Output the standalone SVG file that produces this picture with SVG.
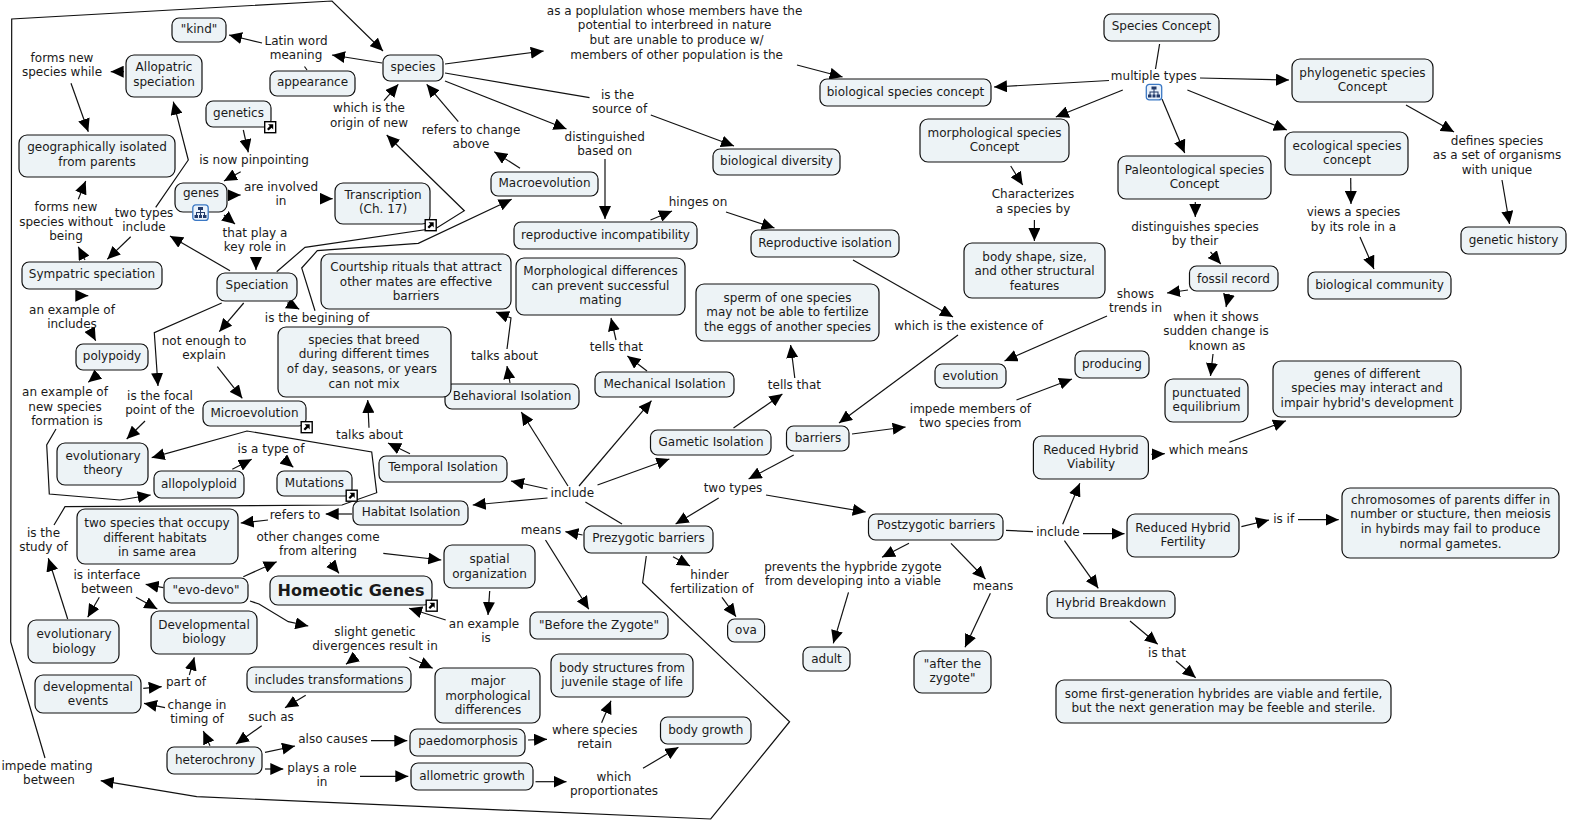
<svg xmlns="http://www.w3.org/2000/svg" width="1569" height="822" viewBox="0 0 1569 822">
<style>
text{font-family:"DejaVu Sans","Verdana",sans-serif;font-size:12px;fill:#1a1a1a;text-anchor:middle;transform:translateY(-0.7px)}
rect.n{fill:#edf3f6;stroke:#111;stroke-width:1.2}
#c polyline{fill:none;stroke:#111;stroke-width:1.2;marker-end:url(#a)}
#c polyline.p{marker-end:none}
</style>
<defs>
<marker id="a" markerUnits="userSpaceOnUse" markerWidth="13" markerHeight="12" refX="13" refY="6" orient="auto" viewBox="0 0 13 12"><path d="M0,0L13,6L0,12Z" fill="#000"/></marker>
<g id="lk"><rect x="0.7" y="0.7" width="11" height="11" fill="#fff" stroke="#000" stroke-width="1.4"/><path d="M4,3.2H9.2V8.4L7.6,6.8L4.6,9.6L3,8L5.8,5L4,3.2Z" fill="#000"/></g>
<g id="tr"><rect x="0.8" y="0.8" width="15.4" height="15.6" rx="3" fill="#eaf2fb" stroke="#3b78c4" stroke-width="1.3"/><path d="M6,3H11V6H9V8H13V11H14.5V14H11V11H12V9H9V11H10V14H7V11H8V9H5V11H6V14H2.5V11H4V8H8V6H6Z" fill="#223a6a"/></g>
</defs>
<g id="c">
<polyline points="45,758 10.7,642 11.7,19 332,1 383,51"/>
<polyline points="262,43 229,35"/>
<polyline points="382,63 332,55"/>
<polyline class="p" points="304.5,66.5 307,70"/>
<polyline points="445,64 543.7,51"/>
<polyline class="p" points="445,73 589.5,97.7"/>
<polyline points="650.8,115 734,146"/>
<polyline points="445,81 566.5,129"/>
<polyline points="605,159 605,219"/>
<polyline points="650.5,220 672,211"/>
<polyline points="726,212 774.5,228"/>
<polyline points="797,65 842.6,77"/>
<polyline points="1109,80.5 994,87"/>
<polyline class="p" points="1159.6,44 1155.5,69"/>
<polyline points="1200,78 1289,80"/>
<polyline points="1122.8,90 1055.8,117"/>
<polyline points="1162,99 1184.7,153"/>
<polyline points="1187.4,90 1286.8,130"/>
<polyline points="1406,105 1454,132"/>
<polyline points="1502,180 1509.5,224"/>
<polyline points="1350.7,178 1351,204"/>
<polyline points="1360,237 1374,269"/>
<polyline points="1195.3,202 1195.3,217"/>
<polyline points="1210.5,252 1220.8,264"/>
<polyline points="1188,290 1167,293"/>
<polyline points="1229,294 1226,307"/>
<polyline points="1213,354 1210.5,376"/>
<polyline points="1107,316 1004.5,361"/>
<polyline points="1010.7,166 1022.7,185"/>
<polyline points="1034.4,220 1034.4,241"/>
<polyline points="853,260 953,317"/>
<polyline points="958,335 839,423"/>
<polyline points="852,434 905.6,427"/>
<polyline points="1016.5,400 1072,379"/>
<polyline points="793.7,455 748.6,479"/>
<polyline points="766,495 865.7,512"/>
<polyline points="718.7,498 675.6,524"/>
<polyline class="p" points="622,524 585.4,502"/>
<polyline points="597.5,485 669.4,459"/>
<polyline points="579,486 651.5,400.7"/>
<polyline points="568,486 521.3,412"/>
<polyline points="547.5,489 511,481"/>
<polyline points="547.5,498 472.7,505"/>
<polyline points="733.5,428 782.4,394"/>
<polyline points="794.8,378 790.6,345"/>
<polyline points="647,371 627.4,356"/>
<polyline points="616,340 611,318"/>
<polyline points="510,383 507,366"/>
<polyline points="507,349 511,318 496,312"/>
<polyline points="410,453.7 388,443"/>
<polyline points="369,427.7 367.7,400"/>
<polyline points="352,514 325.7,514"/>
<polyline points="268,520 240.7,523"/>
<polyline points="54,525 65,506.7 342,505 376.7,492.7 371.7,452 247,431 151.7,457.7"/>
<polyline points="56,429 46.7,445 49.3,494 120,500 150.7,495"/>
<polyline points="145,421 126.7,439"/>
<polyline points="221.7,303 154.3,332.7 158,386"/>
<polyline points="243.7,303 219.3,331.7"/>
<polyline points="217.3,366.7 242.3,398.3"/>
<polyline points="287.3,302.7 299.3,309.3"/>
<polyline points="315,310.7 301.7,268 317.3,250.7 418.3,243.3 511.7,199.3"/>
<polyline points="276.7,271.7 305,247.3 436.7,228 464.3,210.7 386.7,135"/>
<polyline points="384,100.7 398.3,84.3"/>
<polyline points="458.3,121.7 426.7,84.3"/>
<polyline points="520,168.3 494.3,151.7"/>
<polyline points="243.3,130 248.3,152.3"/>
<polyline points="240.7,171.7 224,181"/>
<polyline points="230,195.3 240.7,195"/>
<polyline points="321.7,198.7 332.7,198.7"/>
<polyline points="224,215 235,224"/>
<polyline points="256,258.3 256,270"/>
<polyline points="230,270.7 170,236"/>
<polyline points="130.7,236.7 107.3,259.3"/>
<polyline points="155.7,207.3 188.3,160 173.3,101.7"/>
<polyline points="124,71.7 110.7,71.7"/>
<polyline points="71,83.3 88.3,131.7"/>
<polyline points="85,260 78.3,246.7"/>
<polyline points="78.3,199.3 85.7,181"/>
<polyline points="79,295.7 88.3,295.7"/>
<polyline points="90,330 95.7,340.7"/>
<polyline points="98.3,374 88.3,382.3"/>
<polyline points="232.3,469.3 251.7,459.3"/>
<polyline points="283.3,459 293.3,467.3"/>
<polyline points="67.7,619 48.3,558.3"/>
<polyline points="99.3,597.3 87.7,617.3"/>
<polyline points="136,597.3 157.3,609"/>
<polyline points="163.3,587.7 145.7,584.3"/>
<polyline points="243.3,576.7 276.7,561.7"/>
<polyline points="383.3,553.3 441.3,560"/>
<polyline points="330,562.3 339,573.3"/>
<polyline points="250,601 259,604 288.3,621.7 308.3,626"/>
<polyline points="489.7,591 488,615"/>
<polyline points="445.7,620 409,608.3"/>
<polyline points="356,656.7 346,664.3"/>
<polyline points="409.3,657.3 432.7,668.3"/>
<polyline points="305.7,695.3 285,707.7"/>
<polyline points="261.7,725.7 236,744"/>
<polyline points="210,745.7 203.3,731"/>
<polyline points="165,707.7 144,703.3"/>
<polyline points="143.3,688.3 161.7,686.7"/>
<polyline points="189.3,675 194.3,657.3"/>
<polyline points="265,752.3 295,746"/>
<polyline points="371,740.7 407.3,740.7"/>
<polyline points="265,769 283.3,769"/>
<polyline points="360,776.3 408.3,776.3"/>
<polyline points="528,740 547,739.3"/>
<polyline points="601.6,722.7 611,700.7"/>
<polyline points="535.5,781.7 566.5,781.7"/>
<polyline points="643,768.3 678.4,747.3"/>
<polyline points="646.3,556 642.6,582.7 789.6,721.7 710.7,819 196.7,796.7 100.7,780.7"/>
<polyline points="582.6,535 565.4,531.7"/>
<polyline points="545.5,540 588.8,609.3"/>
<polyline points="673,556.7 690,566"/>
<polyline points="722,597.3 736,616.7"/>
<polyline points="909,543.3 882,557.3"/>
<polyline points="848.5,592.3 833.3,643.3"/>
<polyline points="951,543.3 985.5,579"/>
<polyline points="990.4,593.3 965,647.3"/>
<polyline class="p" points="1006,530.3 1033,531.7"/>
<polyline points="1062.7,524.3 1079.8,483.3"/>
<polyline points="1083,533.7 1124.5,533.7"/>
<polyline points="1064.4,540.7 1098.3,588.3"/>
<polyline points="1151.4,454.3 1164.8,453.7"/>
<polyline points="1229.4,442.3 1286,420.7"/>
<polyline points="1241.4,526.7 1269,520"/>
<polyline points="1298,519.7 1338.7,519.7"/>
<polyline points="1130,621 1157.7,644.3"/>
<polyline points="1176,661 1195.7,677.7"/>
</g>
<g id="n-kind"><rect class="n" x="172" y="18" width="54" height="24" rx="7"/><text x="199" y="33.5">"kind"</text></g>
<g id="n-allopatric"><rect class="n" x="126" y="55" width="76" height="42" rx="8"/><text x="164" y="72.2">Allopatric<tspan x="164" dy="14.6">speciation</tspan></text></g>
<g id="n-appearance"><rect class="n" x="270" y="71" width="85" height="25" rx="7"/><text x="312.5" y="87">appearance</text></g>
<g id="n-species"><rect class="n" x="383" y="55" width="60" height="26" rx="7"/><text x="413" y="71.5">species</text></g>
<g id="n-genetics"><rect class="n" x="206" y="101" width="65" height="26" rx="7"/><text x="238.5" y="117.5">genetics</text><use href="#lk" x="264" y="121"/></g>
<g id="n-geo"><rect class="n" x="19" y="135" width="156" height="42" rx="8"/><text x="97" y="152.2">geographically isolated<tspan x="97" dy="14.6">from parents</tspan></text></g>
<g id="n-genes"><rect class="n" x="175" y="183" width="52" height="29" rx="8"/><text x="201" y="198">genes</text><use href="#tr" x="192" y="204"/></g>
<g id="n-transcription"><rect class="n" x="335" y="183" width="95" height="41" rx="8"/><text x="383" y="199.5">Transcription<tspan x="383" dy="14.6">(Ch. 17)</tspan></text><use href="#lk" x="424.5" y="219"/></g>
<g id="n-macro"><rect class="n" x="491" y="172" width="107" height="24" rx="7"/><text x="544.5" y="187.5">Macroevolution</text></g>
<g id="n-sympatric"><rect class="n" x="22" y="262" width="140" height="27" rx="7"/><text x="92" y="279">Sympatric speciation</text></g>
<g id="n-speciation"><rect class="n" x="217" y="273" width="80" height="28" rx="8"/><text x="257" y="290">Speciation</text></g>
<g id="n-behavioral"><rect class="n" x="445" y="384" width="134" height="25" rx="7"/><text x="512" y="401">Behavioral Isolation</text></g>
<g id="n-courtship"><rect class="n" x="321" y="254" width="190" height="55" rx="8"/><text x="416" y="272">Courtship rituals that attract<tspan x="416" dy="14.6">other mates are effective</tspan><tspan x="416" dy="14.6">barriers</tspan></text></g>
<g id="n-morphdiff"><rect class="n" x="516" y="258" width="169" height="57" rx="8"/><text x="600.5" y="276">Morphological differences<tspan x="600.5" dy="14.6">can prevent successful</tspan><tspan x="600.5" dy="14.6">mating</tspan></text></g>
<g id="n-polypoidy"><rect class="n" x="76" y="344" width="72" height="26" rx="7"/><text x="112" y="360.5">polypoidy</text></g>
<g id="n-breed"><rect class="n" x="278" y="327" width="173" height="70" rx="8"/><text x="364" y="344.5">species that breed<tspan x="364" dy="14.6">during different times</tspan><tspan x="362" dy="14.6">of day, seasons, or years</tspan><tspan x="364" dy="14.6">can not mix</tspan></text></g>
<g id="n-micro"><rect class="n" x="203" y="401" width="103" height="25" rx="7"/><text x="254.5" y="418">Microevolution</text><use href="#lk" x="300.5" y="421"/></g>
<g id="n-evotheory"><rect class="n" x="57" y="443" width="91" height="42" rx="8"/><text x="103" y="460.5">evolutionary<tspan x="103" dy="14.6">theory</tspan></text></g>
<g id="n-allopolyploid"><rect class="n" x="154" y="471" width="90" height="27" rx="7"/><text x="199" y="488.5">allopolyploid</text></g>
<g id="n-mutations"><rect class="n" x="277" y="471" width="75" height="25" rx="7"/><text x="314.5" y="488">Mutations</text><use href="#lk" x="345.5" y="489.5"/></g>
<g id="n-temporal"><rect class="n" x="379" y="456" width="128" height="26" rx="7"/><text x="443" y="472">Temporal Isolation</text></g>
<g id="n-habitat"><rect class="n" x="353" y="501" width="115" height="24" rx="7"/><text x="411" y="517">Habitat Isolation</text></g>
<g id="n-twospecies"><rect class="n" x="77" y="509" width="161" height="55" rx="8"/><text x="157" y="528">two species that occupy<tspan x="155" dy="14.6">different habitats</tspan><tspan x="157" dy="14.6">in same area</tspan></text></g>
<g id="n-spatial"><rect class="n" x="444" y="545" width="91" height="43" rx="8"/><text x="489.5" y="564">spatial<tspan x="489.5" dy="14.6">organization</tspan></text></g>
<g id="n-homeotic"><rect class="n" x="270" y="576" width="162" height="29" rx="8"/><text x="351" y="597" style="font-size:16px;font-weight:bold">Homeotic Genes</text><use href="#lk" x="425.5" y="599.5"/></g>
<g id="n-evodevo"><rect class="n" x="164" y="578" width="84" height="25" rx="7"/><text x="206" y="595">"evo-devo"</text></g>
<g id="n-evobio"><rect class="n" x="28" y="620" width="91" height="43" rx="8"/><text x="74" y="639">evolutionary<tspan x="74" dy="14.6">biology</tspan></text></g>
<g id="n-devbio"><rect class="n" x="151" y="611" width="106" height="43" rx="8"/><text x="204" y="629.5">Developmental<tspan x="204" dy="14.6">biology</tspan></text></g>
<g id="n-devevents"><rect class="n" x="35" y="675" width="106" height="38" rx="8"/><text x="88" y="691.5">developmental<tspan x="88" dy="14.6">events</tspan></text></g>
<g id="n-includes"><rect class="n" x="247" y="667" width="164" height="25" rx="7"/><text x="329" y="684.5">includes transformations</text></g>
<g id="n-major"><rect class="n" x="435" y="668" width="105" height="55" rx="8"/><text x="488" y="686">major<tspan x="488" dy="14.6">morphological</tspan><tspan x="488" dy="14.6">differences</tspan></text></g>
<g id="n-heterochrony"><rect class="n" x="167" y="747" width="95" height="27" rx="7"/><text x="215" y="764.5">heterochrony</text></g>
<g id="n-paedo"><rect class="n" x="410" y="729" width="115" height="27" rx="7"/><text x="468" y="746">paedomorphosis</text></g>
<g id="n-allometric"><rect class="n" x="411" y="763" width="122" height="27" rx="7"/><text x="472" y="780.5">allometric growth</text></g>
<g id="n-bodystruct"><rect class="n" x="551" y="654" width="142" height="43" rx="8"/><text x="622" y="672.5">body structures from<tspan x="622" dy="14.6">juvenile stage of life</tspan></text></g>
<g id="n-bodygrowth"><rect class="n" x="660.5" y="717" width="90.5" height="27" rx="7"/><text x="705.8" y="734.5">body growth</text></g>
<g id="n-before"><rect class="n" x="530" y="612" width="138" height="27" rx="7"/><text x="599" y="629.5">"Before the Zygote"</text></g>
<g id="n-ova"><rect class="n" x="727.6" y="619" width="37" height="23" rx="7"/><text x="746" y="635">ova</text></g>
<g id="n-adult"><rect class="n" x="803" y="647" width="47" height="24" rx="7"/><text x="826.5" y="663.5">adult</text></g>
<g id="n-after"><rect class="n" x="914" y="651" width="77" height="42" rx="8"/><text x="952.5" y="668.5">"after the<tspan x="952.5" dy="14.6">zygote"</tspan></text></g>
<g id="n-prezygotic"><rect class="n" x="584" y="526" width="129" height="27" rx="7"/><text x="648.5" y="543">Prezygotic barriers</text></g>
<g id="n-postzygotic"><rect class="n" x="868.5" y="514" width="134.5" height="26" rx="7"/><text x="936" y="530">Postzygotic barriers</text></g>
<g id="n-gametic"><rect class="n" x="650.5" y="430" width="120.5" height="25" rx="7"/><text x="711" y="447">Gametic Isolation</text></g>
<g id="n-barriers"><rect class="n" x="786.5" y="426" width="62.5" height="25" rx="7"/><text x="818" y="443">barriers</text></g>
<g id="n-mechanical"><rect class="n" x="595" y="372" width="139" height="25" rx="7"/><text x="664.5" y="389">Mechanical Isolation</text></g>
<g id="n-sperm"><rect class="n" x="696" y="284" width="183" height="57" rx="8"/><text x="787.5" y="302.5">sperm of one species<tspan x="787.5" dy="14.6">may not be able to fertilize</tspan><tspan x="787.5" dy="14.6">the eggs of another species</tspan></text></g>
<g id="n-repincomp"><rect class="n" x="514" y="222" width="183" height="27" rx="7"/><text x="605.5" y="239.5">reproductive incompatibility</text></g>
<g id="n-repisol"><rect class="n" x="751" y="230" width="148" height="27" rx="7"/><text x="825" y="247.5">Reproductive isolation</text></g>
<g id="n-biodiv"><rect class="n" x="713" y="149" width="127" height="26" rx="7"/><text x="776.5" y="165.5">biological diversity</text></g>
<g id="n-bsc"><rect class="n" x="820" y="79" width="171" height="27" rx="7"/><text x="905.5" y="96.5">biological species concept</text></g>
<g id="n-morph"><rect class="n" x="920" y="119" width="149" height="43" rx="8"/><text x="994.5" y="137.5">morphological species<tspan x="994.5" dy="14.6">Concept</tspan></text></g>
<g id="n-bodyshape"><rect class="n" x="964" y="243" width="141" height="55" rx="8"/><text x="1034.5" y="261.5">body shape, size,<tspan x="1034.5" dy="14.6">and other structural</tspan><tspan x="1034.5" dy="14.6">features</tspan></text></g>
<g id="n-speciesconcept"><rect class="n" x="1104" y="14" width="115" height="27" rx="7"/><text x="1161.5" y="31">Species Concept</text></g>
<g id="n-phylo"><rect class="n" x="1292" y="59" width="141" height="43" rx="8"/><text x="1362.5" y="77.5">phylogenetic species<tspan x="1362.5" dy="14.6">Concept</tspan></text></g>
<g id="n-paleo"><rect class="n" x="1118" y="156" width="153" height="43" rx="8"/><text x="1194.5" y="174.5">Paleontological species<tspan x="1194.5" dy="14.6">Concept</tspan></text></g>
<g id="n-eco"><rect class="n" x="1285" y="132" width="123" height="43" rx="8"/><text x="1347" y="150.5">ecological species<tspan x="1347" dy="14.6">concept</tspan></text></g>
<g id="n-fossil"><rect class="n" x="1189.5" y="266" width="88.5" height="25" rx="7"/><text x="1233.5" y="283.5">fossil record</text></g>
<g id="n-genetichistory"><rect class="n" x="1461" y="227" width="105" height="27" rx="7"/><text x="1513.5" y="244.5">genetic history</text></g>
<g id="n-biocommunity"><rect class="n" x="1308" y="272" width="143" height="27" rx="7"/><text x="1379.5" y="289.5">biological community</text></g>
<g id="n-evolution"><rect class="n" x="935" y="364" width="71" height="24" rx="7"/><text x="970.5" y="380.5">evolution</text></g>
<g id="n-producing"><rect class="n" x="1075" y="351" width="74" height="27" rx="7"/><text x="1112" y="368.5">producing</text></g>
<g id="n-punctuated"><rect class="n" x="1165" y="379" width="83" height="43" rx="8"/><text x="1206.5" y="397.5">punctuated<tspan x="1206.5" dy="14.6">equilibrium</tspan></text></g>
<g id="n-genesdiff"><rect class="n" x="1273" y="361" width="188" height="56" rx="8"/><text x="1367" y="378.5">genes of different<tspan x="1367" dy="14.6">species may interact and</tspan><tspan x="1367" dy="14.6">impair hybrid's development</tspan></text></g>
<g id="n-viability"><rect class="n" x="1033.4" y="436" width="115" height="43" rx="8"/><text x="1091" y="454.5">Reduced Hybrid<tspan x="1091" dy="14.6">Viability</tspan></text></g>
<g id="n-fertility"><rect class="n" x="1127" y="514" width="112" height="43" rx="8"/><text x="1183" y="532.5">Reduced Hybrid<tspan x="1183" dy="14.6">Fertility</tspan></text></g>
<g id="n-chromosomes"><rect class="n" x="1342" y="488" width="217" height="70" rx="8"/><text x="1450.5" y="504.5">chromosomes of parents differ in<tspan x="1450.5" dy="14.6">number or stucture, then meiosis</tspan><tspan x="1450.5" dy="14.6">in hybirds may fail to produce</tspan><tspan x="1450.5" dy="14.6">normal gametes.</tspan></text></g>
<g id="n-breakdown"><rect class="n" x="1047" y="591" width="128" height="27" rx="7"/><text x="1111" y="608">Hybrid Breakdown</text></g>
<g id="n-somefirst"><rect class="n" x="1056" y="680" width="335" height="43" rx="8"/><text x="1223.5" y="698.5">some first-generation hybrides are viable and fertile,<tspan x="1223.5" dy="14.6">but the next generation may be feeble and sterile.</tspan></text></g>
<g id="labels">
<g id="l1"><text x="296" y="45.5">Latin word<tspan x="296" dy="14.6">meaning</tspan></text></g>
<g id="l2"><text x="62" y="62.5">forms new<tspan x="62" dy="14.6">species while</tspan></text></g>
<g id="l3"><text x="369" y="113">which is the<tspan x="369" dy="14.6">origin of new</tspan></text></g>
<g id="l4"><text x="471" y="134.5">refers to change<tspan x="471" dy="14.6">above</tspan></text></g>
<g id="l5"><text x="254" y="165">is now pinpointing</text></g>
<g id="l6"><text x="281" y="191.5">are involved<tspan x="281" dy="14.6">in</tspan></text></g>
<g id="l7"><text x="66" y="212">forms new<tspan x="66" dy="14.6">species without</tspan><tspan x="66" dy="14.6">being</tspan></text></g>
<g id="l8"><text x="144" y="217.5">two types<tspan x="144" dy="14.6">include</tspan></text></g>
<g id="l9"><text x="255" y="237.5">that play a<tspan x="255" dy="14.6">key role in</tspan></text></g>
<g id="l10"><text x="72" y="314.5">an example of<tspan x="72" dy="14.6">includes</tspan></text></g>
<g id="l11"><text x="317" y="322.5">is the begining of</text></g>
<g id="l12"><text x="204" y="345.5">not enough to<tspan x="204" dy="14.6">explain</tspan></text></g>
<g id="l13"><text x="65" y="397">an example of<tspan x="65" dy="14.6">new species</tspan><tspan x="67" dy="14.6">formation is</tspan></text></g>
<g id="l14"><text x="160" y="400.5">is the focal<tspan x="160" dy="14.6">point of the</tspan></text></g>
<g id="l15"><text x="369.5" y="439.5">talks about</text></g>
<g id="l16"><text x="271" y="453.5">is a type of</text></g>
<g id="l17"><text x="295" y="519.5">refers to</text></g>
<g id="l18"><text x="318" y="541.5">other changes come<tspan x="318" dy="14.6">from altering</tspan></text></g>
<g id="l19"><text x="43.5" y="537.5">is the<tspan x="43.5" dy="14.6">study of</tspan></text></g>
<g id="l20"><text x="107" y="579.5">is interface<tspan x="107" dy="14.6">between</tspan></text></g>
<g id="l21"><text x="375" y="636.5">slight genetic<tspan x="375" dy="14.6">divergences result in</tspan></text></g>
<g id="l22"><text x="484" y="628.5">an example<tspan x="486" dy="14.6">is</tspan></text></g>
<g id="l23"><text x="186" y="686.5">part of</text></g>
<g id="l24"><text x="197" y="709.5">change in<tspan x="197" dy="14.6">timing of</tspan></text></g>
<g id="l25"><text x="271" y="721.5">such as</text></g>
<g id="l26"><text x="333" y="743.5">also causes</text></g>
<g id="l27"><text x="322" y="772.5">plays a role<tspan x="322" dy="14.6">in</tspan></text></g>
<g id="l28"><text x="47" y="770.5">impede mating<tspan x="49" dy="14.6">between</tspan></text></g>
<g id="l29"><text x="674.6" y="15.5">as a poplulation whose members have the<tspan x="674.6" dy="14.6">potential to interbreed in nature</tspan><tspan x="676.6" dy="14.6">but are unable to produce w/</tspan><tspan x="676.6" dy="14.6">members of other population is the</tspan></text></g>
<g id="l30"><text x="617.5" y="99.5">is the<tspan x="619.5" dy="14.6">source of</tspan></text></g>
<g id="l31"><text x="604.7" y="141.5">distinguished<tspan x="604.7" dy="14.6">based on</tspan></text></g>
<g id="l32"><text x="698" y="206.5">hinges on</text></g>
<g id="l33"><text x="1033" y="199">Characterizes<tspan x="1033" dy="14.6">a species by</tspan></text></g>
<g id="l34"><text x="1153.8" y="80.5">multiple types</text></g>
<g id="l35"><text x="1497" y="145.5">defines species<tspan x="1497" dy="14.6">as a set of organisms</tspan><tspan x="1497" dy="14.6">with unique</tspan></text></g>
<g id="l36"><text x="1195" y="231.5">distinguishes species<tspan x="1195" dy="14.6">by their</tspan></text></g>
<g id="l37"><text x="1353.5" y="217">views a species<tspan x="1353.5" dy="14.6">by its role in a</tspan></text></g>
<g id="l38"><text x="1135.5" y="298.5">shows<tspan x="1135.5" dy="14.6">trends in</tspan></text></g>
<g id="l39"><text x="968.6" y="330.5">which is the existence of</text></g>
<g id="l40"><text x="1216" y="321.5">when it shows<tspan x="1216" dy="14.6">sudden change is</tspan><tspan x="1217" dy="14.6">known as</tspan></text></g>
<g id="l41"><text x="970.4" y="413.5">impede members of<tspan x="970.4" dy="14.6">two species from</tspan></text></g>
<g id="l42"><text x="616.4" y="351.5">tells that</text></g>
<g id="l43"><text x="794.4" y="389.5">tells that</text></g>
<g id="l44"><text x="504.5" y="360.5">talks about</text></g>
<g id="l45"><text x="1208.4" y="454.5">which means</text></g>
<g id="l46"><text x="1283.7" y="523.5">is if</text></g>
<g id="l47"><text x="1058" y="536.5">include</text></g>
<g id="l48"><text x="572.3" y="498">include</text></g>
<g id="l49"><text x="733" y="492.5">two types</text></g>
<g id="l50"><text x="541" y="534.5">means</text></g>
<g id="l51"><text x="709.5" y="579.5">hinder<tspan x="711.8" dy="14.6">fertilization of</tspan></text></g>
<g id="l52"><text x="853" y="571.5">prevents the hypbride zygote<tspan x="853" dy="14.6">from developing into a viable</tspan></text></g>
<g id="l53"><text x="993" y="590.5">means</text></g>
<g id="l54"><text x="594.7" y="734.5">where species<tspan x="594.7" dy="14.6">retain</tspan></text></g>
<g id="l55"><text x="614" y="781.5">which<tspan x="614" dy="14.6">proportionates</tspan></text></g>
<g id="l56"><text x="1167" y="657.5">is that</text></g>
</g>
<use href="#tr" x="1145.5" y="83.5"/>
</svg>
